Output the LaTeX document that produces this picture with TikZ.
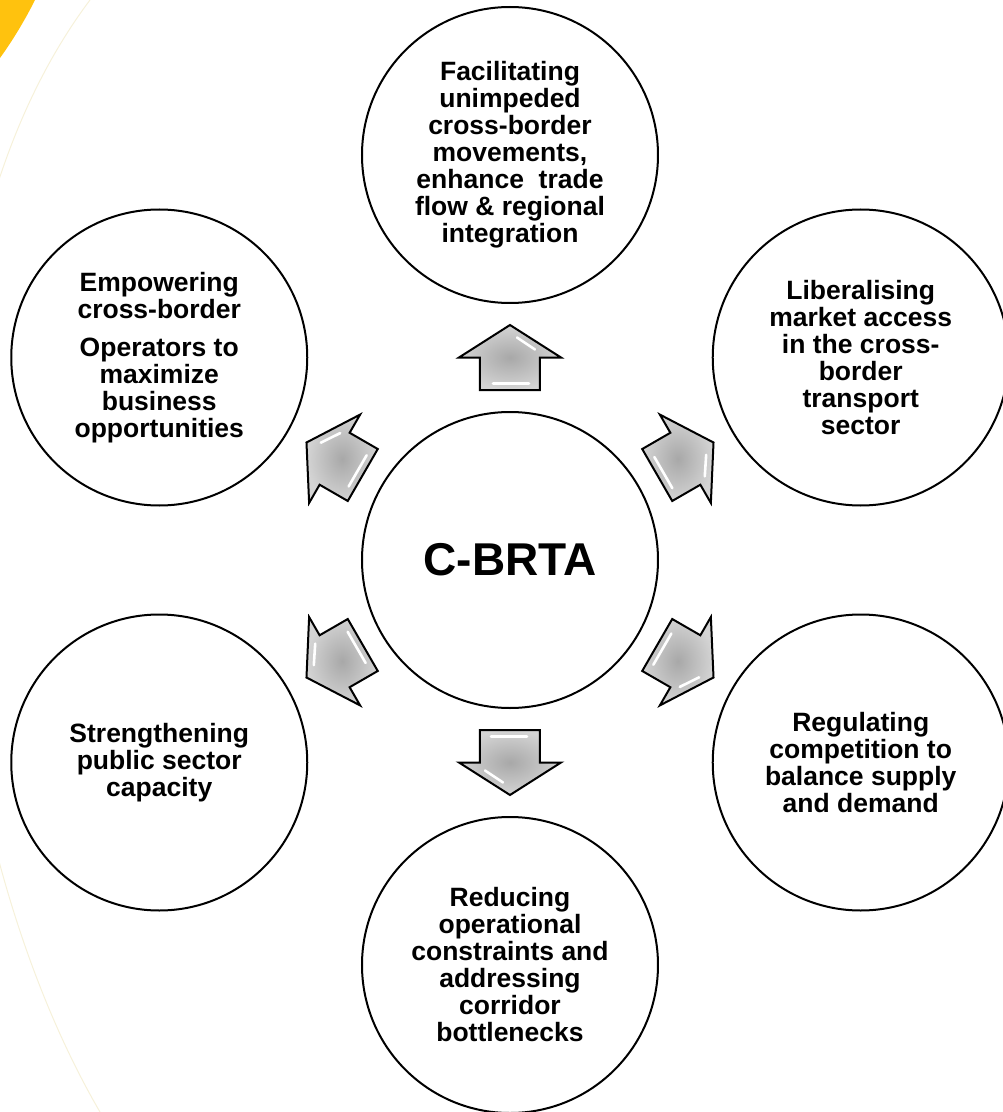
\documentclass[tikz,border=0pt]{standalone}
\usepackage{fontspec}
\setmainfont{Liberation Sans}
\usetikzlibrary{calc}
\definecolor{arrowcore}{RGB}{168,168,168}
\definecolor{arrowrim}{RGB}{212,212,212}
\definecolor{cornergold}{RGB}{255,194,14}
\definecolor{faintcream}{RGB}{246,241,218}
\tikzset{
    goal_circ/.style={circle, draw=black, line width=2pt, minimum size=296pt, inner sep=0pt, text centered, align=center, font=\fontsize{26.5}{27}\selectfont\bfseries},
    hub_circ/.style={circle, draw=black, line width=2pt, minimum size=296pt, inner sep=0pt, text centered, font=\fontsize{46}{50}\selectfont\bfseries},
    arrow_body/.style={draw=black, line width=2pt, line join=miter, inner color=arrowcore, outer color=arrowrim},
    bevel_line/.style={draw=white, line width=2.6pt, line cap=round},
    block_arrow/.pic={
        \path [arrow_body] (-32.5,-30) -- (0,-30) -- (0,-51) -- (32.5,0)
            -- (0,51) -- (0,30) -- (-32.5,30) -- cycle;
        \path [bevel_line] (-26,-19) -- (-26,17);
        \path [bevel_line] (20,-7) -- (8,-25);
    },
}

\begin{document}
\begin{tikzpicture}[x=1pt, y=1pt]
      \useasboundingbox (-510,-552) rectangle (493,560);

      %%%%%%%%%%%%%%
      % Background %
      %%%%%%%%%%%%%%
      \begin{scope}
          \clip (-510,-552) rectangle (493,560);
          \fill [cornergold] (-510,560) -- (-475,560)
              .. controls (-485,540) and (-497,520) .. (-510,502) -- cycle;
          \draw [faintcream, line width=1pt] (-420,560)
              .. controls (-630,280) and (-580,-260) .. (-410,-552);
      \end{scope}

      %%%%%%%%%
      % Goals %
      %%%%%%%%%
      \node (cbrta) [hub_circ] at (0,0)
          {C-BRTA};
      \node (facilitate) [goal_circ] at (90:405pt)
          {Facilitating\\unimpeded\\cross-border\\movements,\\enhance \ trade\\flow \& regional\\integration};
      \node (liberalise) [goal_circ] at (30:405pt)
          {Liberalising\\market access\\in the cross-\\border\\transport\\sector};
      \node (regulate) [goal_circ] at (-30:405pt)
          {Regulating\\competition to\\balance supply\\and demand};
      \node (reduce) [goal_circ] at (-90:405pt)
          {Reducing\\operational\\constraints and\\addressing\\corridor\\bottlenecks};
      \node (strengthen) [goal_circ] at (210:405pt)
          {Strengthening\\public sector\\capacity};
      \node (empower) [goal_circ] at (150:405pt)
          {Empowering\\cross-border\\[11pt]Operators to\\maximize\\business\\opportunities};

      % block arrows half way out from the hub
      \pic [rotate=90] at ($(cbrta)!0.5!(facilitate)$) {block_arrow};
      \pic [rotate=30] at ($(cbrta)!0.5!(liberalise)$) {block_arrow};
      \pic [rotate=-30] at ($(cbrta)!0.5!(regulate)$) {block_arrow};
      \pic [rotate=-90] at ($(cbrta)!0.5!(reduce)$) {block_arrow};
      \pic [rotate=210] at ($(cbrta)!0.5!(strengthen)$) {block_arrow};
      \pic [rotate=150] at ($(cbrta)!0.5!(empower)$) {block_arrow};

\end{tikzpicture}
\end{document}
